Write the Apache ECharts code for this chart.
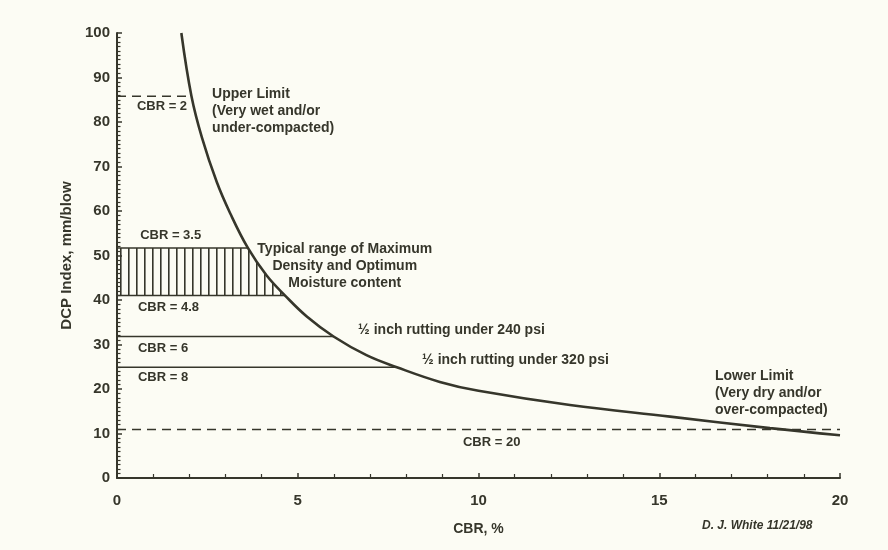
<!DOCTYPE html>
<html>
<head>
<meta charset="utf-8">
<script src="https://cdn.jsdelivr.net/npm/echarts@6/dist/echarts.min.js"></script>
<style>
html,body{margin:0;padding:0;background:#fcfcf4;}
#c{width:888px;height:550px;}
</style>
</head>
<body>
<div id="c"></div>
<script>
// ---- data ----
const curveCBR = [1.78, 2.06, 2.35, 2.76, 3.13, 3.62, 4.14, 4.65, 5.25, 5.99, 6.9, 7.74, 8.93, 10.0, 12.53, 15.3, 18.06, 20.0];
const curveDCP = [100, 85.8, 76.5, 66.5, 59.5, 51.7, 45.5, 41, 36.3, 31.8, 27.6, 24.9, 21.6, 19.6, 16.4, 13.8, 11.2, 9.6];

const refDCP    = [85.8, 51.7, 41.0, 31.8, 24.9, 10.9];
const refEndCBR = [2.06, 3.62, 4.65, 5.99, 7.74, 20.0];
const refDashed = [true, false, false, false, false, true];

const hatchCBR = [0, 0, 3.62, 4.14, 4.65];
const hatchDCP = [41.0, 51.7, 51.7, 45.5, 41.0];

const annoText = [
  'CBR = 2',
  'Upper Limit\n(Very wet and/or\nunder-compacted)',
  'CBR = 3.5',
  'Typical range of Maximum\nDensity and Optimum\nMoisture content',
  'CBR = 4.8',
  'CBR = 6',
  'CBR = 8',
  '\u00BD inch rutting under 240 psi',
  '\u00BD inch rutting under 320 psi',
  'Lower Limit\n(Very dry and/or\nover-compacted)',
  'CBR = 20'
];
const annoCBR = [0.55, 2.63, 0.64, 6.3, 0.58, 0.58, 0.58, 6.67, 8.44, 16.54, 9.57];
const annoDCP = [83.4, 82.5, 54.6, 47.6, 38.4, 29.2, 22.7, 33.3, 26.5, 19.1, 8.1];
const annoAlign = ['left','left','left','center','left','left','left','left','left','left','left'];
const annoSize = [13, 14, 13, 14, 13, 13, 13, 14, 14, 14, 13];

const xTicks = [0, 5, 10, 15, 20];
const yTicks = [0, 10, 20, 30, 40, 50, 60, 70, 80, 90, 100];

// ---- styling ----
const INK = '#36362b';
const FONT = 'Liberation Sans, Arial, sans-serif';

const pat = document.createElement('canvas');
pat.width = 8; pat.height = 8;
const pctx = pat.getContext('2d');
pctx.fillStyle = INK;
pctx.fillRect(0, 0, 1.6, 8);

const chart = echarts.init(document.getElementById('c'), null, {renderer: 'canvas'});

const series = [];

// hatched region
series.push({
  type: 'custom',
  silent: true,
  clip: true,
  data: [0],
  renderItem: function (params, api) {
    const pts = hatchCBR.map((x, i) => api.coord([x, hatchDCP[i]]));
    return {type: 'polygon', shape: {points: pts}, style: {fill: {image: pat, repeat: 'repeat'}, stroke: null}};
  },
  z: 1
});

// reference horizontal lines
refDCP.forEach((y, i) => {
  series.push({
    type: 'line',
    silent: true,
    symbol: 'none',
    data: [[0, y], [refEndCBR[i], y]],
    lineStyle: {color: INK, width: refDashed[i] ? 1.4 : 1.6, type: refDashed[i] ? [9, 6] : 'solid'},
    z: 2
  });
});

// main curve
series.push({
  type: 'line',
  silent: true,
  symbol: 'none',
  smooth: 0.4,
  data: curveCBR.map((x, i) => [x, curveDCP[i]]),
  lineStyle: {color: INK, width: 2.6},
  z: 3
});

// annotations
series.push({
  type: 'custom',
  silent: true,
  clip: false,
  data: annoText.map((t, i) => [annoCBR[i], annoDCP[i], i]),
  renderItem: function (params, api) {
    const i = api.value(2);
    const p = api.coord([api.value(0), api.value(1)]);
    return {
      type: 'text',
      style: {
        text: annoText[i], x: p[0], y: p[1],
        textAlign: annoAlign[i], textVerticalAlign: 'middle',
        font: 'bold ' + annoSize[i] + 'px ' + FONT, fill: INK, lineHeight: 17
      }
    };
  },
  z: 4
});

chart.setOption({
  backgroundColor: '#fcfcf4',
  animation: false,
  grid: {left: 117, right: 48, top: 33, bottom: 72},
  xAxis: {
    type: 'value', min: xTicks[0], max: xTicks[xTicks.length - 1], interval: 5,
    name: 'CBR, %', nameLocation: 'middle', nameGap: 44,
    nameTextStyle: {color: INK, fontSize: 14, fontWeight: 'bold', fontFamily: FONT},
    axisLine: {show: true, lineStyle: {color: INK, width: 2}},
    axisTick: {show: true, inside: true, length: 5, lineStyle: {color: INK, width: 1.5}},
    minorTick: {show: true, splitNumber: 5, length: 4, lineStyle: {color: INK, width: 1.2}},
    axisLabel: {color: INK, fontSize: 15, fontWeight: 'bold', fontFamily: FONT, margin: 15},
    splitLine: {show: false}
  },
  yAxis: {
    type: 'value', min: yTicks[0], max: yTicks[yTicks.length - 1], interval: 10,
    name: 'DCP Index, mm/blow', nameLocation: 'middle', nameGap: 42,
    nameTextStyle: {color: INK, fontSize: 15, fontWeight: 'bold', fontFamily: FONT},
    axisLine: {show: true, lineStyle: {color: INK, width: 2}},
    axisTick: {show: true, inside: true, length: 5, lineStyle: {color: INK, width: 1.5}},
    minorTick: {show: true, splitNumber: 10, length: 3.5, lineStyle: {color: INK, width: 1.2}},
    axisLabel: {color: INK, fontSize: 15, fontWeight: 'bold', fontFamily: FONT, margin: 7},
    splitLine: {show: false}
  },
  graphic: [{
    type: 'text', left: 702, top: 520,
    style: {text: 'D. J. White 11/21/98', font: 'italic bold 12px ' + FONT, fill: INK}
  }],
  series: series
});
</script>
</body>
</html>
